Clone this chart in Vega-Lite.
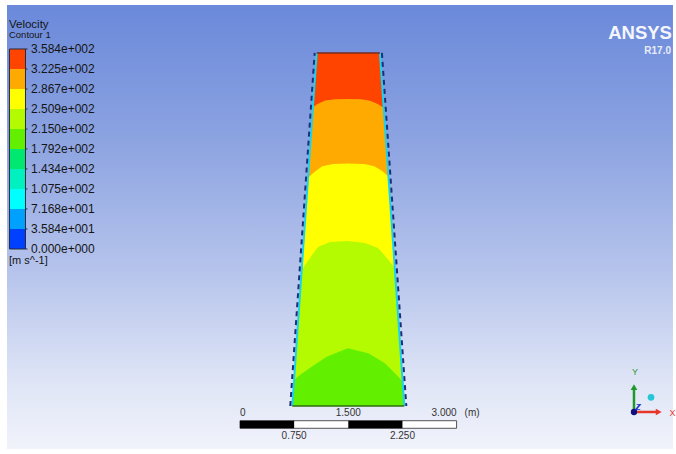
{
  "$schema": "https://vega.github.io/schema/vega-lite/v6.json",
  "width": 676,
  "height": 454,
  "padding": 0,
  "autosize": {"type": "none"},
  "background": "#ffffff",
  "config": {
    "view": {"stroke": null},
    "axis": {"disable": true},
    "legend": {"disable": true},
    "text": {"font": "Liberation Sans"}
  },
  "datasets": {
    "contours": [
      {"poly": "p1", "lo": 179.2, "o": 0, "x": 0.724, "y": 0},
      {"poly": "p1", "lo": 179.2, "o": 1, "x": 2.276, "y": 0},
      {"poly": "p1", "lo": 179.2, "o": 2, "x": 1.938, "y": 4.89},
      {"poly": "p1", "lo": 179.2, "o": 3, "x": 1.062, "y": 4.89},
      {"poly": "p2", "lo": 215.0, "o": 0, "x": 0.749, "y": 0.36},
      {"poly": "p2", "lo": 215.0, "o": 1, "x": 0.831, "y": 0.429},
      {"poly": "p2", "lo": 215.0, "o": 2, "x": 0.993, "y": 0.544},
      {"poly": "p2", "lo": 215.0, "o": 3, "x": 1.201, "y": 0.683},
      {"poly": "p2", "lo": 215.0, "o": 4, "x": 1.492, "y": 0.799},
      {"poly": "p2", "lo": 215.0, "o": 5, "x": 1.777, "y": 0.73},
      {"poly": "p2", "lo": 215.0, "o": 6, "x": 2.008, "y": 0.591},
      {"poly": "p2", "lo": 215.0, "o": 7, "x": 2.193, "y": 0.406},
      {"poly": "p2", "lo": 215.0, "o": 8, "x": 2.253, "y": 0.337},
      {"poly": "p2", "lo": 215.0, "o": 9, "x": 1.938, "y": 4.89},
      {"poly": "p2", "lo": 215.0, "o": 10, "x": 1.062, "y": 4.89},
      {"poly": "p3", "lo": 250.9, "o": 0, "x": 0.853, "y": 1.884},
      {"poly": "p3", "lo": 250.9, "o": 1, "x": 0.97, "y": 2.05},
      {"poly": "p3", "lo": 250.9, "o": 2, "x": 1.08, "y": 2.202},
      {"poly": "p3", "lo": 250.9, "o": 3, "x": 1.247, "y": 2.271},
      {"poly": "p3", "lo": 250.9, "o": 4, "x": 1.496, "y": 2.285},
      {"poly": "p3", "lo": 250.9, "o": 5, "x": 1.731, "y": 2.258},
      {"poly": "p3", "lo": 250.9, "o": 6, "x": 1.911, "y": 2.188},
      {"poly": "p3", "lo": 250.9, "o": 7, "x": 2.022, "y": 2.064},
      {"poly": "p3", "lo": 250.9, "o": 8, "x": 2.145, "y": 1.911},
      {"poly": "p3", "lo": 250.9, "o": 9, "x": 1.938, "y": 4.89},
      {"poly": "p3", "lo": 250.9, "o": 10, "x": 1.062, "y": 4.89},
      {"poly": "p4", "lo": 286.7, "o": 0, "x": 0.941, "y": 3.16},
      {"poly": "p4", "lo": 286.7, "o": 1, "x": 1.03, "y": 3.24},
      {"poly": "p4", "lo": 286.7, "o": 2, "x": 1.14, "y": 3.322},
      {"poly": "p4", "lo": 286.7, "o": 3, "x": 1.29, "y": 3.352},
      {"poly": "p4", "lo": 286.7, "o": 4, "x": 1.5, "y": 3.36},
      {"poly": "p4", "lo": 286.7, "o": 5, "x": 1.72, "y": 3.352},
      {"poly": "p4", "lo": 286.7, "o": 6, "x": 1.86, "y": 3.322},
      {"poly": "p4", "lo": 286.7, "o": 7, "x": 1.96, "y": 3.26},
      {"poly": "p4", "lo": 286.7, "o": 8, "x": 2.057, "y": 3.18},
      {"poly": "p4", "lo": 286.7, "o": 9, "x": 1.938, "y": 4.89},
      {"poly": "p4", "lo": 286.7, "o": 10, "x": 1.062, "y": 4.89},
      {"poly": "p5", "lo": 322.5, "o": 0, "x": 1.009, "y": 4.14},
      {"poly": "p5", "lo": 322.5, "o": 1, "x": 1.08, "y": 4.185},
      {"poly": "p5", "lo": 322.5, "o": 2, "x": 1.18, "y": 4.232},
      {"poly": "p5", "lo": 322.5, "o": 3, "x": 1.32, "y": 4.247},
      {"poly": "p5", "lo": 322.5, "o": 4, "x": 1.5, "y": 4.252},
      {"poly": "p5", "lo": 322.5, "o": 5, "x": 1.68, "y": 4.247},
      {"poly": "p5", "lo": 322.5, "o": 6, "x": 1.8, "y": 4.228},
      {"poly": "p5", "lo": 322.5, "o": 7, "x": 1.9, "y": 4.185},
      {"poly": "p5", "lo": 322.5, "o": 8, "x": 1.992, "y": 4.13},
      {"poly": "p5", "lo": 322.5, "o": 9, "x": 1.938, "y": 4.89},
      {"poly": "p5", "lo": 322.5, "o": 10, "x": 1.062, "y": 4.89}
    ],
    "sides": [
      {"side": "L", "x": 0.724, "y": 0},
      {"side": "L", "x": 1.062, "y": 4.89},
      {"side": "R", "x": 2.276, "y": 0},
      {"side": "R", "x": 1.938, "y": 4.89}
    ],
    "scaleDark": [
      {"from": 0, "to": 0.75},
      {"from": 1.5, "to": 2.25}
    ],
    "scaleTicks": [
      {"x": 0, "label": "0"},
      {"x": 0.75, "label": "0.750"},
      {"x": 1.5, "label": "1.500"},
      {"x": 2.25, "label": "2.250"},
      {"x": 3, "label": "3.000"}
    ],
    "legendBands": [
      {"lo": 0, "hi": 35.84},
      {"lo": 35.84, "hi": 71.68},
      {"lo": 71.68, "hi": 107.5},
      {"lo": 107.5, "hi": 143.4},
      {"lo": 143.4, "hi": 179.2},
      {"lo": 179.2, "hi": 215.0},
      {"lo": 215.0, "hi": 250.9},
      {"lo": 250.9, "hi": 286.7},
      {"lo": 286.7, "hi": 322.5},
      {"lo": 322.5, "hi": 358.4}
    ],
    "legendLabels": [
      {"v": 358.4, "label": "3.584e+002"},
      {"v": 322.5, "label": "3.225e+002"},
      {"v": 286.7, "label": "2.867e+002"},
      {"v": 250.9, "label": "2.509e+002"},
      {"v": 215.0, "label": "2.150e+002"},
      {"v": 179.2, "label": "1.792e+002"},
      {"v": 143.4, "label": "1.434e+002"},
      {"v": 107.5, "label": "1.075e+002"},
      {"v": 71.68, "label": "7.168e+001"},
      {"v": 35.84, "label": "3.584e+001"},
      {"v": 0, "label": "0.000e+000"}
    ]
  },
  "layer": [
    {
      "layer": [
        {
          "data": {"values": [{}]},
          "mark": {"type": "rect", "fill": {"gradient": "linear", "x1": 0, "y1": 0, "x2": 0, "y2": 1, "stops": [
            {"offset": 0, "color": "#6a89da"},
            {"offset": 0.3, "color": "#8ca3e1"},
            {"offset": 0.6, "color": "#b6c4ec"},
            {"offset": 0.85, "color": "#dfe5f6"},
            {"offset": 1, "color": "#f1f3fb"}]}},
          "encoding": {
            "x": {"datum": -3.227, "type": "quantitative", "scale": {"domain": [-3.324, 6.039], "nice": false, "zero": false}},
            "x2": {"datum": 5.997},
            "y": {"datum": 5.554, "type": "quantitative", "scale": {"domain": [-0.665, 5.623], "nice": false, "zero": false}},
            "y2": {"datum": -0.596}
          }
        },
        {
          "data": {"name": "contours"},
          "mark": {"type": "line", "interpolate": "linear-closed", "strokeWidth": 0},
          "encoding": {
            "x": {"field": "x", "type": "quantitative", "scale": {"domain": [-3.324, 6.039], "nice": false, "zero": false}},
            "y": {"field": "y", "type": "quantitative", "scale": {"domain": [-0.665, 5.623], "nice": false, "zero": false}},
            "detail": {"field": "poly"},
            "order": {"field": "o", "type": "quantitative"},
            "fill": {"field": "lo", "type": "quantitative", "legend": null, "scale": {"type": "threshold", "domain": [35.84, 71.68, 107.5, 143.4, 179.2, 215.0, 250.9, 286.7, 322.5], "range": ["#0040ff", "#00a0ff", "#00ffff", "#00f0c0", "#00e870", "#62f000", "#b4fa00", "#ffff00", "#ffaa00", "#ff4400"]}}
          }
        },
        {
          "data": {"name": "sides"},
          "mark": {"type": "line", "color": "#19d4f0", "strokeWidth": 2},
          "encoding": {
            "x": {"field": "x", "type": "quantitative", "scale": {"domain": [-3.324, 6.039], "nice": false, "zero": false}},
            "y": {"field": "y", "type": "quantitative", "scale": {"domain": [-0.665, 5.623], "nice": false, "zero": false}},
            "detail": {"field": "side"}
          }
        },
        {
          "data": {"name": "sides"},
          "transform": [{"filter": "datum.side === 'L'"}],
          "mark": {"type": "line", "color": "#1d2f78", "strokeWidth": 2, "strokeDash": [5, 4], "xOffset": -2},
          "encoding": {
            "x": {"field": "x", "type": "quantitative", "scale": {"domain": [-3.324, 6.039], "nice": false, "zero": false}},
            "y": {"field": "y", "type": "quantitative", "scale": {"domain": [-0.665, 5.623], "nice": false, "zero": false}}
          }
        },
        {
          "data": {"name": "sides"},
          "transform": [{"filter": "datum.side === 'R'"}],
          "mark": {"type": "line", "color": "#1d2f78", "strokeWidth": 2, "strokeDash": [5, 4], "xOffset": 2},
          "encoding": {
            "x": {"field": "x", "type": "quantitative", "scale": {"domain": [-3.324, 6.039], "nice": false, "zero": false}},
            "y": {"field": "y", "type": "quantitative", "scale": {"domain": [-0.665, 5.623], "nice": false, "zero": false}}
          }
        },
        {
          "data": {"values": [{}]},
          "mark": {"type": "rule", "color": "#7a2a18", "strokeWidth": 1.5},
          "encoding": {
            "x": {"datum": 1.062, "type": "quantitative", "scale": {"domain": [-3.324, 6.039], "nice": false, "zero": false}},
            "x2": {"datum": 1.938},
            "y": {"datum": 4.89, "type": "quantitative", "scale": {"domain": [-0.665, 5.623], "nice": false, "zero": false}}
          }
        },
        {
          "data": {"values": [{}]},
          "mark": {"type": "rule", "color": "#2e6e10", "strokeWidth": 1.5},
          "encoding": {
            "x": {"datum": 0.724, "type": "quantitative", "scale": {"domain": [-3.324, 6.039], "nice": false, "zero": false}},
            "x2": {"datum": 2.276},
            "y": {"datum": 0, "type": "quantitative", "scale": {"domain": [-0.665, 5.623], "nice": false, "zero": false}}
          }
        },
        {
          "data": {"values": [{}]},
          "mark": {"type": "rect", "fill": "#ffffff", "stroke": "#555555", "strokeWidth": 1},
          "encoding": {
            "x": {"datum": 0, "type": "quantitative", "scale": {"domain": [-3.324, 6.039], "nice": false, "zero": false}},
            "x2": {"datum": 3},
            "y": {"datum": -0.204, "type": "quantitative", "scale": {"domain": [-0.665, 5.623], "nice": false, "zero": false}},
            "y2": {"datum": -0.309}
          }
        },
        {
          "data": {"name": "scaleDark"},
          "mark": {"type": "rect", "fill": "#000000"},
          "encoding": {
            "x": {"field": "from", "type": "quantitative", "scale": {"domain": [-3.324, 6.039], "nice": false, "zero": false}},
            "x2": {"field": "to"},
            "y": {"datum": -0.204, "type": "quantitative", "scale": {"domain": [-0.665, 5.623], "nice": false, "zero": false}},
            "y2": {"datum": -0.309}
          }
        },
        {
          "data": {"name": "scaleTicks"},
          "transform": [{"filter": "datum.x === 0"}],
          "mark": {"type": "text", "align": "left", "baseline": "middle", "fontSize": 10, "color": "#333333"},
          "encoding": {
            "x": {"field": "x", "type": "quantitative", "scale": {"domain": [-3.324, 6.039], "nice": false, "zero": false}},
            "y": {"datum": -0.097, "type": "quantitative", "scale": {"domain": [-0.665, 5.623], "nice": false, "zero": false}},
            "text": {"field": "label"}
          }
        },
        {
          "data": {"name": "scaleTicks"},
          "transform": [{"filter": "datum.x === 1.5"}],
          "mark": {"type": "text", "align": "center", "baseline": "middle", "fontSize": 10, "color": "#333333"},
          "encoding": {
            "x": {"field": "x", "type": "quantitative", "scale": {"domain": [-3.324, 6.039], "nice": false, "zero": false}},
            "y": {"datum": -0.097, "type": "quantitative", "scale": {"domain": [-0.665, 5.623], "nice": false, "zero": false}},
            "text": {"field": "label"}
          }
        },
        {
          "data": {"name": "scaleTicks"},
          "transform": [{"filter": "datum.x === 3"}],
          "mark": {"type": "text", "align": "right", "baseline": "middle", "fontSize": 10, "color": "#333333"},
          "encoding": {
            "x": {"field": "x", "type": "quantitative", "scale": {"domain": [-3.324, 6.039], "nice": false, "zero": false}},
            "y": {"datum": -0.097, "type": "quantitative", "scale": {"domain": [-0.665, 5.623], "nice": false, "zero": false}},
            "text": {"field": "label"}
          }
        },
        {
          "data": {"name": "scaleTicks"},
          "transform": [{"filter": "datum.x === 0.75 || datum.x === 2.25"}],
          "mark": {"type": "text", "align": "center", "baseline": "middle", "fontSize": 10, "color": "#333333"},
          "encoding": {
            "x": {"field": "x", "type": "quantitative", "scale": {"domain": [-3.324, 6.039], "nice": false, "zero": false}},
            "y": {"datum": -0.409, "type": "quantitative", "scale": {"domain": [-0.665, 5.623], "nice": false, "zero": false}},
            "text": {"field": "label"}
          }
        },
        {
          "data": {"values": [{}]},
          "mark": {"type": "text", "align": "left", "baseline": "middle", "fontSize": 10, "color": "#333333", "dx": 8, "text": "(m)"},
          "encoding": {
            "x": {"datum": 3, "type": "quantitative", "scale": {"domain": [-3.324, 6.039], "nice": false, "zero": false}},
            "y": {"datum": -0.097, "type": "quantitative", "scale": {"domain": [-0.665, 5.623], "nice": false, "zero": false}}
          }
        },
        {
          "data": {"values": [{}]},
          "mark": {"type": "text", "align": "right", "baseline": "alphabetic", "fontSize": 18.5, "fontWeight": "bold", "color": "#f4f6fc", "text": "ANSYS"},
          "encoding": {
            "x": {"datum": 5.983, "type": "quantitative", "scale": {"domain": [-3.324, 6.039], "nice": false, "zero": false}},
            "y": {"datum": 5.083, "type": "quantitative", "scale": {"domain": [-0.665, 5.623], "nice": false, "zero": false}}
          }
        },
        {
          "data": {"values": [{}]},
          "mark": {"type": "text", "align": "right", "baseline": "alphabetic", "fontSize": 10, "fontWeight": "bold", "color": "#e8ecf8", "text": "R17.0"},
          "encoding": {
            "x": {"datum": 5.97, "type": "quantitative", "scale": {"domain": [-3.324, 6.039], "nice": false, "zero": false}},
            "y": {"datum": 4.871, "type": "quantitative", "scale": {"domain": [-0.665, 5.623], "nice": false, "zero": false}}
          }
        },
        {
          "data": {"values": [{}]},
          "mark": {"type": "rule", "color": "#1f9a2a", "strokeWidth": 2.5},
          "encoding": {
            "x": {"datum": 5.457, "type": "quantitative", "scale": {"domain": [-3.324, 6.039], "nice": false, "zero": false}},
            "y": {"datum": -0.083, "type": "quantitative", "scale": {"domain": [-0.665, 5.623], "nice": false, "zero": false}},
            "y2": {"datum": 0.235}
          }
        },
        {
          "data": {"values": [{}]},
          "mark": {"type": "point", "shape": "triangle-up", "filled": true, "size": 45, "color": "#1f9a2a", "opacity": 1},
          "encoding": {
            "x": {"datum": 5.457, "type": "quantitative", "scale": {"domain": [-3.324, 6.039], "nice": false, "zero": false}},
            "y": {"datum": 0.262, "type": "quantitative", "scale": {"domain": [-0.665, 5.623], "nice": false, "zero": false}}
          }
        },
        {
          "data": {"values": [{}]},
          "mark": {"type": "rule", "color": "#e8362b", "strokeWidth": 2.5},
          "encoding": {
            "x": {"datum": 5.457, "type": "quantitative", "scale": {"domain": [-3.324, 6.039], "nice": false, "zero": false}},
            "x2": {"datum": 5.775},
            "y": {"datum": -0.083, "type": "quantitative", "scale": {"domain": [-0.665, 5.623], "nice": false, "zero": false}}
          }
        },
        {
          "data": {"values": [{}]},
          "mark": {"type": "point", "shape": "triangle-right", "filled": true, "size": 45, "color": "#e8362b", "opacity": 1},
          "encoding": {
            "x": {"datum": 5.8, "type": "quantitative", "scale": {"domain": [-3.324, 6.039], "nice": false, "zero": false}},
            "y": {"datum": -0.083, "type": "quantitative", "scale": {"domain": [-0.665, 5.623], "nice": false, "zero": false}}
          }
        },
        {
          "data": {"values": [{}]},
          "mark": {"type": "rule", "color": "#2233cc", "strokeWidth": 1.5},
          "encoding": {
            "x": {"datum": 5.457, "type": "quantitative", "scale": {"domain": [-3.324, 6.039], "nice": false, "zero": false}},
            "x2": {"datum": 5.54},
            "y": {"datum": -0.083, "type": "quantitative", "scale": {"domain": [-0.665, 5.623], "nice": false, "zero": false}},
            "y2": {"datum": 0.02}
          }
        },
        {
          "data": {"values": [{}]},
          "mark": {"type": "point", "shape": "circle", "filled": true, "size": 40, "color": "#10107a", "opacity": 1},
          "encoding": {
            "x": {"datum": 5.457, "type": "quantitative", "scale": {"domain": [-3.324, 6.039], "nice": false, "zero": false}},
            "y": {"datum": -0.083, "type": "quantitative", "scale": {"domain": [-0.665, 5.623], "nice": false, "zero": false}}
          }
        },
        {
          "data": {"values": [{}]},
          "mark": {"type": "point", "shape": "circle", "filled": true, "size": 45, "color": "#26c6d6", "opacity": 1},
          "encoding": {
            "x": {"datum": 5.693, "type": "quantitative", "scale": {"domain": [-3.324, 6.039], "nice": false, "zero": false}},
            "y": {"datum": 0.12, "type": "quantitative", "scale": {"domain": [-0.665, 5.623], "nice": false, "zero": false}}
          }
        },
        {
          "data": {"values": [{}]},
          "mark": {"type": "text", "align": "center", "baseline": "middle", "fontSize": 9, "color": "#2a9a30", "text": "Y"},
          "encoding": {
            "x": {"datum": 5.47, "type": "quantitative", "scale": {"domain": [-3.324, 6.039], "nice": false, "zero": false}},
            "y": {"datum": 0.471, "type": "quantitative", "scale": {"domain": [-0.665, 5.623], "nice": false, "zero": false}}
          }
        },
        {
          "data": {"values": [{}]},
          "mark": {"type": "text", "align": "center", "baseline": "middle", "fontSize": 9, "fontStyle": "italic", "color": "#2233cc", "text": "Z"},
          "encoding": {
            "x": {"datum": 5.512, "type": "quantitative", "scale": {"domain": [-3.324, 6.039], "nice": false, "zero": false}},
            "y": {"datum": -0.014, "type": "quantitative", "scale": {"domain": [-0.665, 5.623], "nice": false, "zero": false}}
          }
        },
        {
          "data": {"values": [{}]},
          "mark": {"type": "text", "align": "center", "baseline": "middle", "fontSize": 9, "color": "#e8362b", "text": "X"},
          "encoding": {
            "x": {"datum": 5.99, "type": "quantitative", "scale": {"domain": [-3.324, 6.039], "nice": false, "zero": false}},
            "y": {"datum": -0.097, "type": "quantitative", "scale": {"domain": [-0.665, 5.623], "nice": false, "zero": false}}
          }
        }
      ]
    },
    {
      "layer": [
        {
          "data": {"name": "legendBands"},
          "mark": {"type": "rect"},
          "encoding": {
            "x": {"datum": -3.193, "type": "quantitative", "scale": {"domain": [-3.324, 6.039], "nice": false, "zero": false}},
            "x2": {"datum": -2.971},
            "y": {"field": "lo", "type": "quantitative", "scale": {"domain": [-367.4, 446.2], "nice": false, "zero": false}},
            "y2": {"field": "hi"},
            "fill": {"field": "lo", "type": "quantitative", "legend": null, "scale": {"type": "threshold", "domain": [35.84, 71.68, 107.5, 143.4, 179.2, 215.0, 250.9, 286.7, 322.5], "range": ["#0040ff", "#00a0ff", "#00ffff", "#00f0c0", "#00e870", "#62f000", "#b4fa00", "#ffff00", "#ffaa00", "#ff4400"]}}
          }
        },
        {
          "data": {"values": [{}]},
          "mark": {"type": "rect", "fillOpacity": 0, "stroke": "#2a2a3a", "strokeWidth": 1},
          "encoding": {
            "x": {"datum": -3.193, "type": "quantitative", "scale": {"domain": [-3.324, 6.039], "nice": false, "zero": false}},
            "x2": {"datum": -2.971},
            "y": {"datum": 0, "type": "quantitative", "scale": {"domain": [-367.4, 446.2], "nice": false, "zero": false}},
            "y2": {"datum": 358.4}
          }
        },
        {
          "data": {"name": "legendLabels"},
          "mark": {"type": "rule", "color": "#2a2a3a", "strokeWidth": 1},
          "encoding": {
            "x": {"datum": -2.971, "type": "quantitative", "scale": {"domain": [-3.324, 6.039], "nice": false, "zero": false}},
            "x2": {"datum": -2.943},
            "y": {"field": "v", "type": "quantitative", "scale": {"domain": [-367.4, 446.2], "nice": false, "zero": false}}
          }
        },
        {
          "data": {"name": "legendLabels"},
          "mark": {"type": "text", "align": "left", "baseline": "middle", "fontSize": 12, "color": "#151515"},
          "encoding": {
            "x": {"datum": -2.895, "type": "quantitative", "scale": {"domain": [-3.324, 6.039], "nice": false, "zero": false}},
            "y": {"field": "v", "type": "quantitative", "scale": {"domain": [-367.4, 446.2], "nice": false, "zero": false}},
            "text": {"field": "label"}
          }
        },
        {
          "data": {"values": [{}]},
          "mark": {"type": "text", "align": "left", "baseline": "middle", "fontSize": 11.5, "color": "#151515", "text": "Velocity"},
          "encoding": {
            "x": {"datum": -3.2, "type": "quantitative", "scale": {"domain": [-3.324, 6.039], "nice": false, "zero": false}},
            "y": {"datum": 401.4, "type": "quantitative", "scale": {"domain": [-367.4, 446.2], "nice": false, "zero": false}}
          }
        },
        {
          "data": {"values": [{}]},
          "mark": {"type": "text", "align": "left", "baseline": "middle", "fontSize": 9.5, "color": "#151515", "text": "Contour 1"},
          "encoding": {
            "x": {"datum": -3.2, "type": "quantitative", "scale": {"domain": [-3.324, 6.039], "nice": false, "zero": false}},
            "y": {"datum": 383.5, "type": "quantitative", "scale": {"domain": [-367.4, 446.2], "nice": false, "zero": false}}
          }
        },
        {
          "data": {"values": [{}]},
          "mark": {"type": "text", "align": "left", "baseline": "middle", "fontSize": 11, "color": "#151515", "text": "[m s^-1]"},
          "encoding": {
            "x": {"datum": -3.2, "type": "quantitative", "scale": {"domain": [-3.324, 6.039], "nice": false, "zero": false}},
            "y": {"datum": -21.5, "type": "quantitative", "scale": {"domain": [-367.4, 446.2], "nice": false, "zero": false}}
          }
        }
      ]
    }
  ],
  "resolve": {"scale": {"y": "independent"}}
}
